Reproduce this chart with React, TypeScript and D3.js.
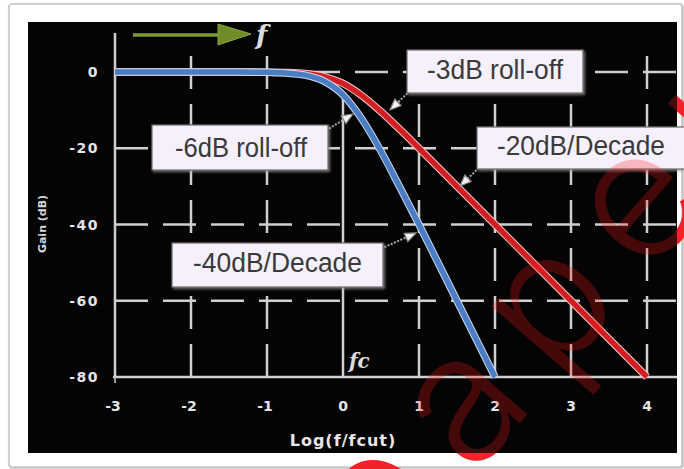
import React from "react";
import * as d3 from "d3";

const W = 684;
const H = 469;

// x: log10(f/fc) ticks, y: gain in dB ticks
const xTicks = [-3, -2, -1, 0, 1, 2, 3, 4];
const yTicks = [0, -20, -40, -60, -80];

// -3dB roll-off (first-order) response
const redX = [-3, -1.5, -1, -0.75, -0.5, -0.25, 0, 0.25, 0.5, 0.75, 1, 1.5, 2, 3, 4];
const redY = [0, 0, -0.04, -0.13, -0.41, -1.2, -3.0, -6.2, -10.4, -15.1, -20, -30, -40, -60, -80];

// -6dB roll-off (second-order) response
const blueX = [-3, -1.5, -1, -0.75, -0.5, -0.25, 0, 0.25, 0.5, 0.75, 1, 1.5, 2];
const blueY = [0, 0, -0.09, -0.27, -0.83, -2.4, -6.0, -12.4, -20.8, -30.3, -40, -60, -80];

const labelTexts = ["-3dB roll-off", "-6dB roll-off", "-20dB/Decade", "-40dB/Decade"];

export default function App() {
  const x = d3.scaleLinear().domain([-3, 4]).range([115, 647]);
  const y = d3.scaleLinear().domain([-80, 0]).range([377, 72]);
  const plotRight = 677;
  const gridTop = 53;

  const line = d3
    .line<[number, number]>()
    .x((d) => x(d[0]))
    .y((d) => y(d[1]))
    .curve(d3.curveMonotoneX);

  const redPts = redX.map((v, i) => [v, redY[i]] as [number, number]);
  const bluePts = blueX.map((v, i) => [v, blueY[i]] as [number, number]);

  const grid = "#cfcfcf";
  const tickFont = "'DejaVu Sans', sans-serif";

  const boxes = [
    { b: [407, 50, 176, 43], t: [427, 79, 136] },
    { b: [152, 125, 176, 45], t: [175, 157, 132] },
    { b: [477, 127, 210, 42], t: [497, 155, 168] },
    { b: [172, 243, 211, 44], t: [193, 272, 169] },
  ];
  const arrows = [
    [415, 86, 390, 110],
    [320, 134, 353, 114],
    [484, 163, 460, 186],
    [378, 250, 416, 233],
  ];

  const arrowHead = (a: number[]) => {
    const [x1, y1, x2, y2] = a;
    const ang = Math.atan2(y2 - y1, x2 - x1);
    const L = 11;
    const wH = 4.5;
    const bx = x2 - L * Math.cos(ang);
    const by = y2 - L * Math.sin(ang);
    const px = -Math.sin(ang) * wH;
    const py = Math.cos(ang) * wH;
    return `M${x2},${y2} L${bx + px},${by + py} L${bx - px},${by - py} Z`;
  };

  const watermark = (fill: string, opacity: number) => (
    <text
      transform="translate(382,582) rotate(-49)"
      fontFamily="Inter, 'Liberation Sans', Arial, sans-serif"
      fontWeight={300}
      fontSize={180}
      letterSpacing={28}
      fill={fill}
      opacity={opacity}
    >
      paper
    </text>
  );

  return (
    <svg
      width={W}
      height={H}
      style={{ position: "absolute", left: 0, top: 0, display: "block", background: "#fff" }}
    >
      <defs>
        <filter id="sh" x="-5%" y="-5%" width="110%" height="110%">
          <feDropShadow dx="1" dy="1" stdDeviation="1.2" floodColor="#888" floodOpacity="0.6" />
        </filter>
        <filter id="bs" x="-5%" y="-10%" width="115%" height="130%">
          <feDropShadow dx="1.5" dy="1.5" stdDeviation="1" floodColor="#999" floodOpacity="0.7" />
        </filter>
      </defs>
      <rect x={0} y={0} width={W} height={H} fill="#fff" />
      <rect x={9} y={4} width={673} height={463} rx={3} fill="#fff" stroke="#c4c4c4" strokeWidth={1.5} filter="url(#sh)" />

      {watermark("#ee1c25", 0.95)}

      <rect x={28} y={22} width={649} height={431} fill="#040404" />

      {yTicks.slice(0, 4).map((t) => (
        <line
          key={"h" + t}
          x1={x(-3)}
          x2={plotRight}
          y1={y(t)}
          y2={y(t)}
          stroke={grid}
          strokeWidth={2.5}
          strokeDasharray="33,15"
        />
      ))}
      {xTicks.filter((t) => t !== -3 && t !== 0).map((t) => (
        <line
          key={"v" + t}
          x1={x(t)}
          x2={x(t)}
          y1={y(-80)}
          y2={gridTop}
          stroke={grid}
          strokeWidth={2.5}
          strokeDasharray="33,15"
        />
      ))}
      <line x1={x(0)} x2={x(0)} y1={97} y2={y(-80)} stroke={grid} strokeWidth={2.5} />

      <line x1={x(-3)} x2={x(-3)} y1={33} y2={y(-80)} stroke={grid} strokeWidth={2.5} />
      <line x1={x(-3) - 2} x2={plotRight} y1={y(-80)} y2={y(-80)} stroke={grid} strokeWidth={2.5} />
      <line x1={x(-3)} x2={x(-3)} y1={y(-80)} y2={y(-80) + 6} stroke={grid} strokeWidth={1.5} />

      {yTicks.map((t) => (
        <text
          key={"yl" + t}
          x={99}
          y={y(t)}
          dy="0.36em"
          textAnchor="end"
          fontFamily={tickFont}
          fontWeight="bold"
          fontSize={14}
          letterSpacing={1.5}
          fill="#e6e6e6"
        >
          {t === 0 ? "0" : String(t)}
        </text>
      ))}
      {xTicks.map((t) => (
        <text
          key={"xl" + t}
          x={x(t) + (t < 0 ? -2 : 0)}
          y={406}
          dy="0.36em"
          textAnchor="middle"
          fontFamily={tickFont}
          fontWeight="bold"
          fontSize={14}
          fill="#e6e6e6"
        >
          {String(t)}
        </text>
      ))}
      <text
        x={343}
        y={446}
        textAnchor="middle"
        fontFamily={tickFont}
        fontWeight="bold"
        fontSize={16}
        letterSpacing={1}
        fill="#e6e6e6"
      >
        Log(f/fcut)
      </text>
      <text
        transform="translate(46,224) rotate(-90)"
        textAnchor="middle"
        fontFamily={tickFont}
        fontWeight="bold"
        fontSize={11}
        fill="#d8d8d8"
      >
        Gain (dB)
      </text>

      <path d={line(redPts) || ""} fill="none" stroke="#f0c8c8" strokeWidth={7.5} />
      <path d={line(redPts) || ""} fill="none" stroke="#d21e22" strokeWidth={5.5} />
      <path d={line(bluePts) || ""} fill="none" stroke="#c8d8f0" strokeWidth={7.5} />
      <path d={line(bluePts) || ""} fill="none" stroke="#4a7dc2" strokeWidth={5.5} />

      <line x1={133} x2={220} y1={35} y2={35} stroke="#7d9a35" strokeWidth={3.5} />
      <path d="M218,24 L251,34 L218,45 Z" fill="#6f8e2a" stroke="#8aa540" strokeWidth={1} />
      <text
        x={256}
        y={44}
        fontFamily="'DejaVu Serif', serif"
        fontStyle="italic"
        fontWeight="bold"
        fontSize={26}
        fill="#dcdcdc"
      >
        f
      </text>
      <text
        x={349}
        y={368}
        fontFamily="'DejaVu Serif', serif"
        fontStyle="italic"
        fontWeight="bold"
        fontSize={20}
        fill="#dcdcdc"
      >
        fc
      </text>

      {arrows.map((a, i) => (
        <g key={"a" + i}>
          <line x1={a[0]} y1={a[1]} x2={a[2]} y2={a[3]} stroke="#a8a8a8" strokeWidth={2} strokeDasharray="2,1.5" />
          <path d={arrowHead(a)} fill="#f4f4f4" stroke="#8c8c8c" strokeWidth={1.2} />
        </g>
      ))}

      {boxes.map((bx, i) => (
        <g key={"b" + i}>
          <rect
            x={bx.b[0]}
            y={bx.b[1]}
            width={bx.b[2]}
            height={bx.b[3]}
            fill="#f5f0fb"
            stroke="#6a6a6a"
            strokeWidth={1.2}
            filter="url(#bs)"
          />
          <text
            x={bx.t[0]}
            y={bx.t[1]}
            textLength={bx.t[2]}
            lengthAdjust="spacingAndGlyphs"
            fontFamily="'Liberation Sans', Arial, sans-serif"
            fontSize={27}
            fill="#3a3a3a"
          >
            {labelTexts[i]}
          </text>
        </g>
      ))}

      {watermark("#ff1a1a", 0.26)}
    </svg>
  );
}
